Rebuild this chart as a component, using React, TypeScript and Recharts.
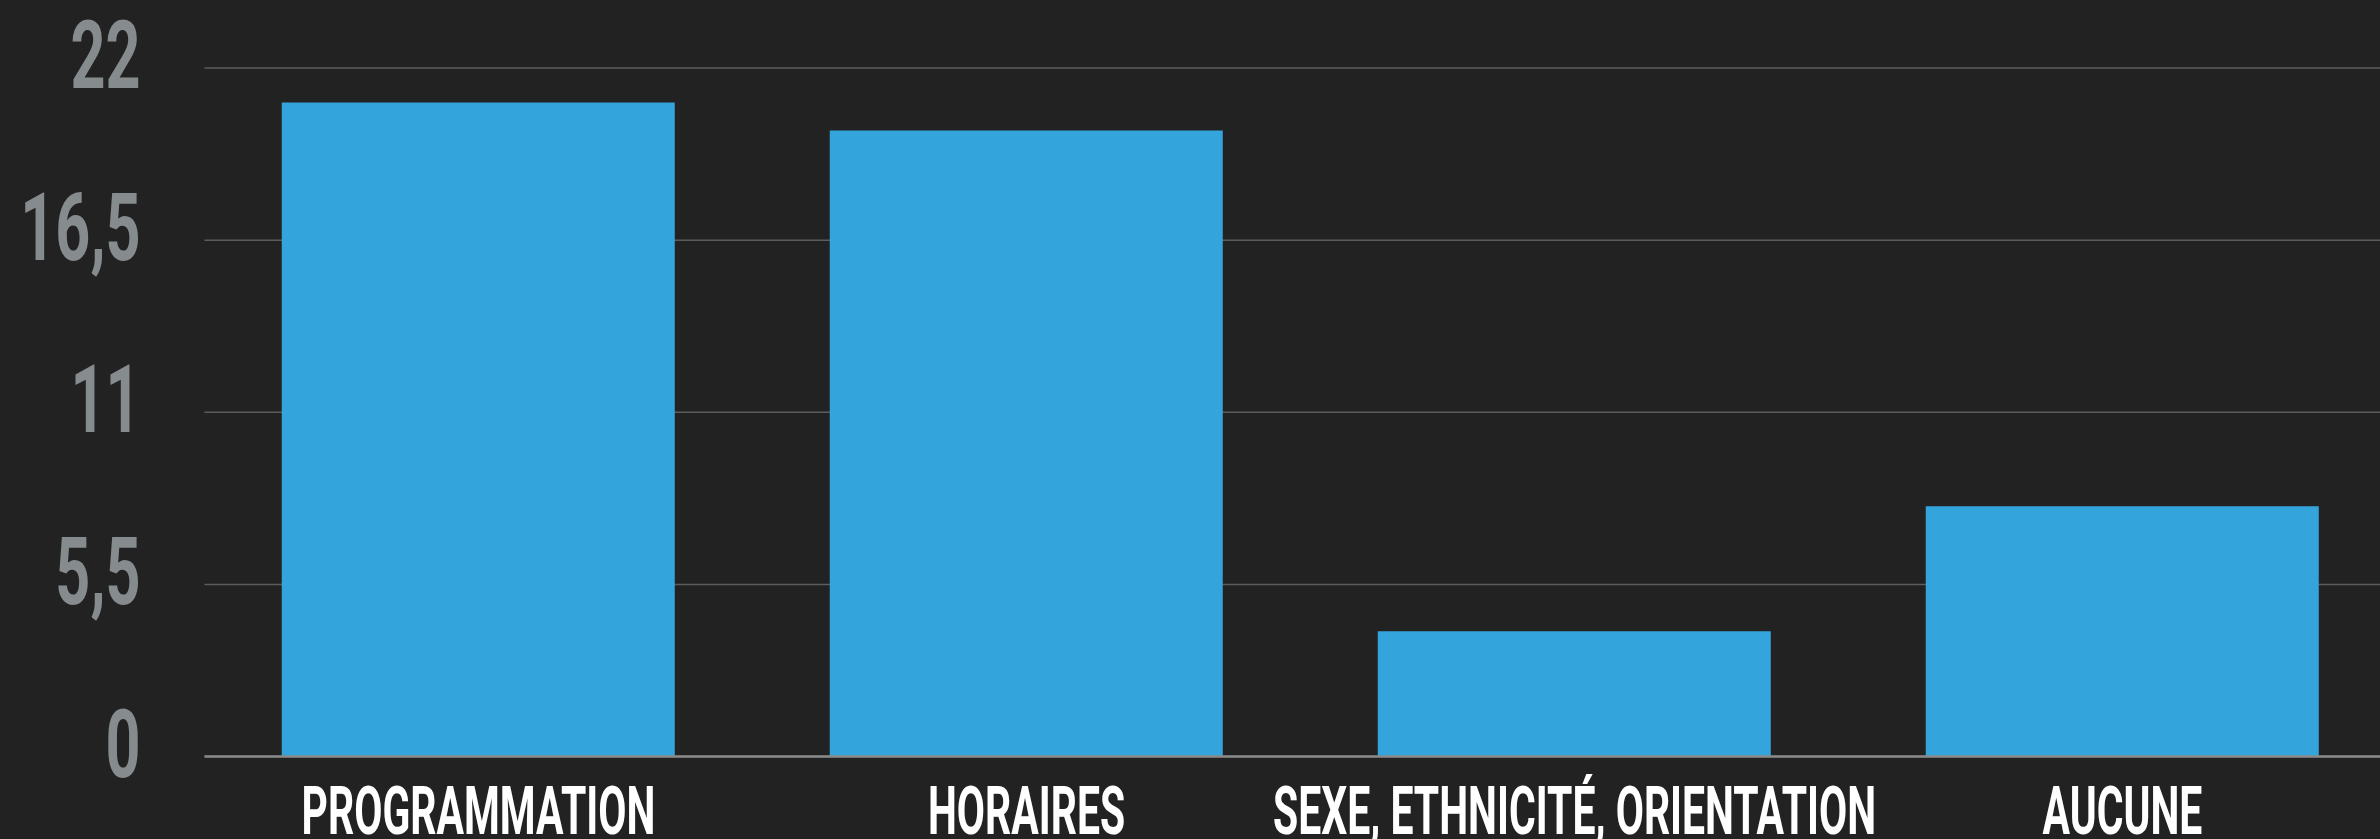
import { Bar, BarChart, CartesianGrid, XAxis, YAxis } from "recharts"

const categories = ["PROGRAMMATION", "HORAIRES", "SEXE, ETHNICITÉ, ORIENTATION", "AUCUNE"]
const values = [20.9, 20, 4, 8]
const yTicks = [0, 5.5, 11, 16.5, 22]

const data = categories.map((name, i) => ({ name, value: values[i] }))

const FONT = "Roboto, 'DejaVu Sans', sans-serif"

const YTick = ({ x, y, payload }: any) => (
  <text
    transform={`translate(${x - 56},${y + 20}) scale(0.65,1)`}
    textAnchor="end"
    fill="#868b8d"
    fontFamily={FONT}
    fontWeight={700}
    fontSize={94}
  >
    {String(payload.value).replace(".", ",")}
  </text>
)

const XTick = ({ x, y, payload }: any) => (
  <text
    transform={`translate(${x},${y + 69}) scale(0.62,1)`}
    textAnchor="middle"
    fill="#ffffff"
    fontFamily={FONT}
    fontWeight={700}
    fontSize={66}
  >
    {payload.value}
  </text>
)

export default function App() {
  return (
    <div
      style={{
        position: "absolute",
        top: 0,
        left: 0,
        width: 2380,
        height: 839,
        overflow: "hidden",
        background: "#222222",
      }}
    >
      <BarChart
        width={2400}
        height={839}
        data={data}
        margin={{ top: 68, right: 3.5, left: 0, bottom: 0 }}
        barCategoryGap="14.1%"
      >
        <CartesianGrid horizontal vertical={false} stroke="#5c5c5c" strokeWidth={1.5} />
        <XAxis
          dataKey="name"
          height={82.5}
          axisLine={{ stroke: "#8a8a8a", strokeWidth: 2.5 }}
          tickLine={false}
          tick={<XTick />}
          interval={0}
        />
        <YAxis
          width={204.5}
          domain={[0, 22]}
          ticks={yTicks}
          axisLine={false}
          tickLine={false}
          tick={<YTick />}
        />
        <Bar dataKey="value" fill="#34a5dc" isAnimationActive={false} />
      </BarChart>
    </div>
  )
}
